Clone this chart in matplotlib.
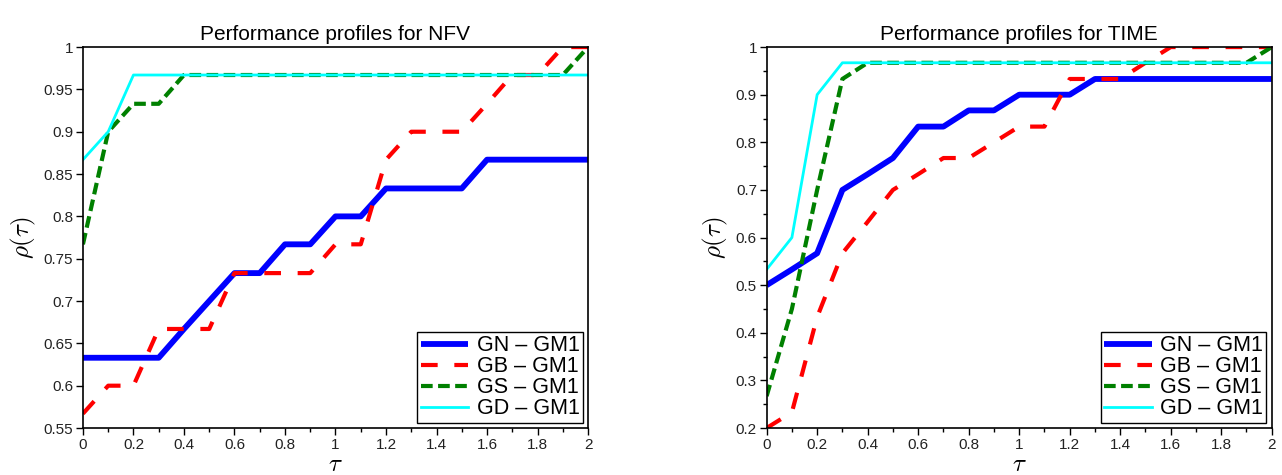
import numpy as np
import matplotlib
matplotlib.use('Agg')
import matplotlib.pyplot as plt
from matplotlib.ticker import MultipleLocator, FormatStrFormatter

plt.rcParams['font.family'] = ['Liberation Sans', 'DejaVu Sans']
plt.rcParams['mathtext.fontset'] = 'cm'

tau = [0, 0.1, 0.2, 0.3, 0.4, 0.5, 0.6, 0.7, 0.8, 0.9, 1.0,
       1.1, 1.2, 1.3, 1.4, 1.5, 1.6, 1.7, 1.8, 1.9, 2.0]

# NFV profiles
nfv_gn = [0.633, 0.633, 0.633, 0.633, 0.667, 0.700, 0.733, 0.733, 0.767, 0.767, 0.800,
          0.800, 0.833, 0.833, 0.833, 0.833, 0.867, 0.867, 0.867, 0.867, 0.867]
nfv_gb = [0.567, 0.600, 0.600, 0.667, 0.667, 0.667, 0.733, 0.733, 0.733, 0.733, 0.767,
          0.767, 0.867, 0.900, 0.900, 0.900, 0.933, 0.967, 0.967, 1.000, 1.000]
nfv_gs = [0.767, 0.900, 0.933, 0.933, 0.967, 0.967, 0.967, 0.967, 0.967, 0.967, 0.967,
          0.967, 0.967, 0.967, 0.967, 0.967, 0.967, 0.967, 0.967, 0.967, 1.000]
nfv_gd = [0.867, 0.900, 0.967, 0.967, 0.967, 0.967, 0.967, 0.967, 0.967, 0.967, 0.967,
          0.967, 0.967, 0.967, 0.967, 0.967, 0.967, 0.967, 0.967, 0.967, 0.967]

# TIME profiles
time_gn = [0.500, 0.533, 0.567, 0.700, 0.733, 0.767, 0.833, 0.833, 0.867, 0.867, 0.900,
           0.900, 0.900, 0.933, 0.933, 0.933, 0.933, 0.933, 0.933, 0.933, 0.933]
time_gb = [0.200, 0.233, 0.433, 0.567, 0.633, 0.700, 0.733, 0.767, 0.767, 0.800, 0.833,
           0.833, 0.933, 0.933, 0.933, 0.967, 1.000, 1.000, 1.000, 1.000, 1.000]
time_gs = [0.267, 0.450, 0.700, 0.933, 0.967, 0.967, 0.967, 0.967, 0.967, 0.967, 0.967,
           0.967, 0.967, 0.967, 0.967, 0.967, 0.967, 0.967, 0.967, 0.967, 1.000]
time_gd = [0.533, 0.600, 0.900, 0.967, 0.967, 0.967, 0.967, 0.967, 0.967, 0.967, 0.967,
           0.967, 0.967, 0.967, 0.967, 0.967, 0.967, 0.967, 0.967, 0.967, 0.967]

labels = ['GN – GM1', 'GB – GM1', 'GS – GM1', 'GD – GM1']

fig = plt.figure(figsize=(12.82, 4.75), dpi=100)
ax1 = fig.add_axes([0.0647, 0.0989, 0.394, 0.802])
ax2 = fig.add_axes([0.598, 0.0989, 0.394, 0.802])

def draw(ax, gn, gb, gs, gd, title, ylim, ymaj, ymin):
    ax.plot(tau, gn, color='blue', lw=4.2, solid_capstyle='butt')
    ax.plot(tau, gb, color='red', lw=3, dashes=(4, 4))
    ax.plot(tau, gs, color='green', lw=3, dashes=(2.8, 1.3))
    ax.plot(tau, gd, color='cyan', lw=2)
    ax.set_xlim(0, 2)
    ax.set_ylim(*ylim)
    ax.xaxis.set_major_locator(MultipleLocator(0.2))
    ax.xaxis.set_minor_locator(MultipleLocator(0.1))
    ax.yaxis.set_major_locator(MultipleLocator(ymaj))
    if ymin:
        ax.yaxis.set_minor_locator(MultipleLocator(ymin))
    ax.xaxis.set_major_formatter(FormatStrFormatter('%g'))
    ax.yaxis.set_major_formatter(FormatStrFormatter('%g'))
    ax.tick_params(which='major', direction='out', length=5, width=1, labelsize=11,
                   colors='black', labelcolor='#222222', pad=2)
    ax.tick_params(which='minor', direction='out', length=3, width=1)
    for s in ax.spines.values():
        s.set_linewidth(1.2)
    ax.set_title(title, fontsize=15, pad=5)
    ax.set_xlabel(r'$\tau$', fontsize=18, labelpad=0)
    ax.set_ylabel(r'$\rho(\tau)$', fontsize=18, labelpad=4)
    leg = ax.legend(labels, loc='lower right', fontsize=15.5, fancybox=False,
                    edgecolor='black', framealpha=1, borderpad=0.15, labelspacing=0.0,
                    handlelength=2.2, handletextpad=0.4, borderaxespad=0.25)
    leg.get_frame().set_linewidth(1.0)

draw(ax1, nfv_gn, nfv_gb, nfv_gs, nfv_gd, 'Performance profiles for NFV', (0.55, 1.0), 0.05, None)
draw(ax2, time_gn, time_gb, time_gs, time_gd, 'Performance profiles for TIME', (0.2, 1.0), 0.1, 0.05)

fig.savefig('out.png', dpi=100)
